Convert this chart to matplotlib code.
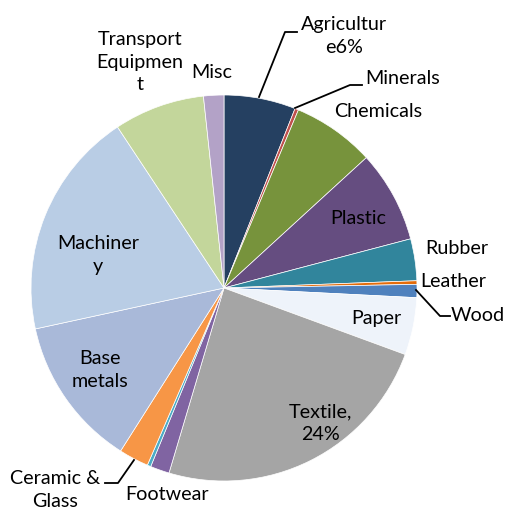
import matplotlib
matplotlib.use("Agg")
import matplotlib.pyplot as plt

plt.rcParams['font.family'] = ['Lato', 'DejaVu Sans']

# export shares by sector (%), clockwise from 12 o'clock
sectors = ["Agriculture", "Minerals", "Chemicals", "Plastic", "Rubber", "Leather",
           "Wood", "Paper", "Textile", "Footwear", "Other", "Ceramic & Glass",
           "Base metals", "Machinery", "Transport Equipment", "Misc"]
shares = [6, 0.3, 6.9, 7.7, 3.5, 0.3, 1.1, 4.8, 24, 1.6, 0.3, 2.5, 12.6, 19.1, 7.6, 1.7]
colors = ["#254061", "#C0504D", "#77933C", "#654D80", "#31859C", "#E46C0A",
          "#4F81BD", "#EEF3FA", "#A5A5A5", "#8064A2", "#4BACC6", "#F79646",
          "#A9B9D9", "#B9CDE5", "#C3D69B", "#B3A2C7"]

W, H = 505, 511
cx, cy, r = 224, H - 288, 193

fig = plt.figure(figsize=(W / 100, H / 100), dpi=100)
ax = fig.add_axes([0, 0, 1, 1])
ax.pie(shares, colors=colors, startangle=90, counterclock=False,
       center=(cx, cy), radius=r,
       wedgeprops=dict(edgecolor="white", linewidth=0.5))
ax.set_xlim(0, W)
ax.set_ylim(0, H)
ax.set_aspect("equal")
ax.axis("off")

# label text, position in pixels from top-left
labels = {
    "Agriculture": ("Agricultur\ne{:g}%".format(shares[0]), 344, 36),
    "Minerals": ("Minerals", 403, 78),
    "Chemicals": ("Chemicals", 378, 111),
    "Plastic": ("Plastic", 358, 218),
    "Rubber": ("Rubber", 457, 248),
    "Leather": ("Leather", 453, 281),
    "Wood": ("Wood", 478, 315),
    "Paper": ("Paper", 376, 318),
    "Textile": ("Textile,\n{:g}%".format(shares[8]), 320, 423),
    "Footwear": ("Footwear", 167, 494),
    "Ceramic & Glass": ("Ceramic &\nGlass", 55, 490),
    "Base metals": ("Base\nmetals", 100, 370),
    "Machinery": ("Machiner\ny", 98, 255),
    "Transport Equipment": ("Transport\nEquipmen\nt", 140, 62),
    "Misc": ("Misc", 212, 72),
}
for name in sectors:
    if name not in labels:
        continue
    txt, x, y = labels[name]
    ax.text(x, H - y, txt, ha="center", va="center", fontsize=14.2,
            color="black", linespacing=1.42)

# leader lines
leaders = [
    [(259, 97), (285, 32), (297, 32)],
    [(295, 108), (350, 85), (362, 85)],
    [(416, 290), (440, 316), (450, 316)],
    [(134, 460), (118, 483), (105, 483)],
]
for pts in leaders:
    xs = [p[0] for p in pts]
    ys = [H - p[1] for p in pts]
    ax.plot(xs, ys, color="black", lw=1.3)

fig.savefig("out.png", dpi=100)
